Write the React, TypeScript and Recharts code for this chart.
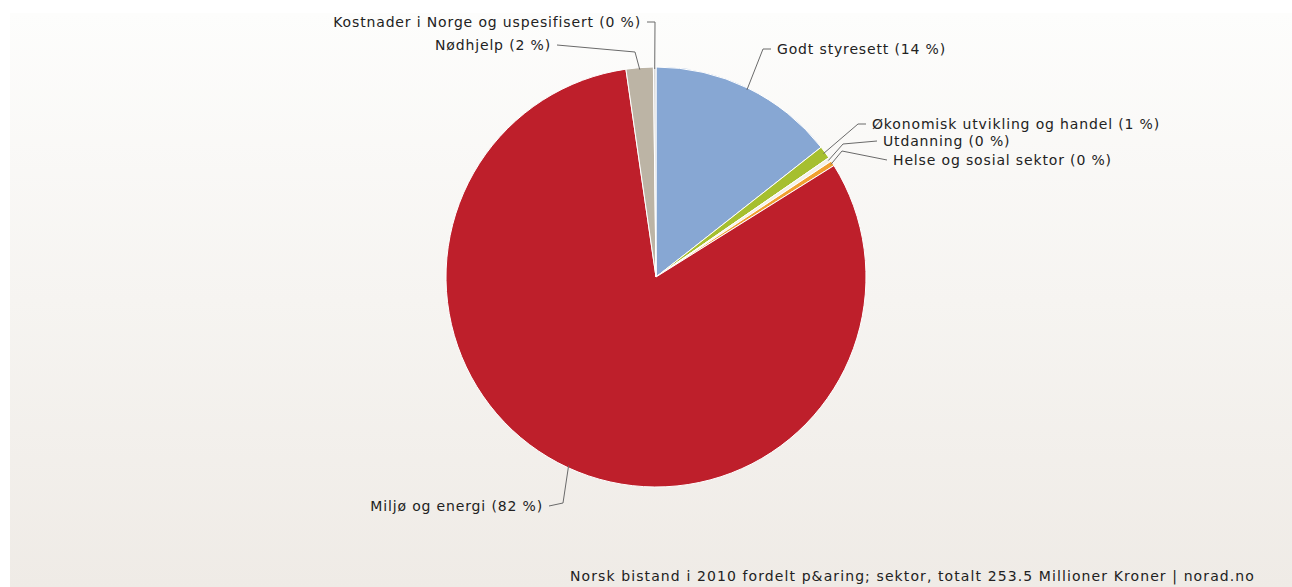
import React from 'react';
import { PieChart, Pie, Cell } from 'recharts';

// Norsk bistand 2010 fordelt på sektor, millioner kroner (total 253.5)
const SECTORS = [
  'Godt styresett',
  'Økonomisk utvikling og handel',
  'Utdanning',
  'Helse og sosial sektor',
  'Miljø og energi',
  'Nødhjelp',
  'Kostnader i Norge og uspesifisert',
];
const AMOUNTS = [36.5, 2.5, 0.8, 1.0, 206.9, 5.3, 0.5];
const PERCENT_LABELS = ['14 %', '1 %', '0 %', '0 %', '82 %', '2 %', '0 %'];

const COLORS = ['#87a7d3', '#a6bf2f', '#f4f1ea', '#f0a030', '#be1f2b', '#bcb4a5', '#d8d8d8'];

const CAPTION = 'Norsk bistand i 2010 fordelt p&aring; sektor, totalt 253.5 Millioner Kroner | norad.no';

const data = SECTORS.map((name, i) => ({ name, value: AMOUNTS[i], pct: PERCENT_LABELS[i] }));

// leader line geometry per slice, offsets from the pie centre
const LEADERS = [
  { elbow: [107, -228], end: [115, -228], anchor: 'start' },
  { elbow: [202, -153], end: [210, -153], anchor: 'start' },
  { elbow: [187, -133], end: [221, -136], anchor: 'start' },
  { elbow: [186, -126], end: [231, -117], anchor: 'start' },
  { elbow: [-93, 226], end: [-107, 229], anchor: 'end' },
  { elbow: [-21, -225], end: [-99, -232], anchor: 'end' },
  { elbow: [-1, -255], end: [-9, -255], anchor: 'end' },
];

const RADIAN = Math.PI / 180;
const FONT = '"DejaVu Sans", sans-serif';

const renderLabel = ({ cx, cy, midAngle, outerRadius, index, payload }: any) => {
  const l = LEADERS[index];
  const sx = cx + (outerRadius - 2) * Math.cos(-midAngle * RADIAN);
  const sy = cy + (outerRadius - 2) * Math.sin(-midAngle * RADIAN);
  const ex = cx + l.elbow[0];
  const ey = cy + l.elbow[1];
  const fx = cx + l.end[0];
  const fy = cy + l.end[1];
  const tx = l.anchor === 'start' ? fx + 6 : fx - 6;
  return (
    <g key={`lbl-${index}`}>
      <polyline points={`${sx},${sy} ${ex},${ey} ${fx},${fy}`} fill="none" stroke="#6a6a6a" strokeWidth={1} />
      <text
        x={tx}
        y={fy}
        textAnchor={l.anchor}
        dominantBaseline="central"
        fill="#222"
        fontFamily={FONT}
        fontSize={14}
        letterSpacing={0.85}
      >
        {`${payload.name} (${payload.pct})`}
      </text>
    </g>
  );
};

export default function App() {
  return (
    <div style={{ position: 'absolute', left: 0, top: 0, width: 1292, height: 587, background: '#fff' }}>
      <div
        style={{
          position: 'absolute',
          left: 10,
          top: 13,
          right: 0,
          bottom: 0,
          background: 'linear-gradient(#fdfdfc, #efebe6)',
        }}
      />
      <div style={{ position: 'absolute', left: 0, top: 0 }}>
        <PieChart width={1292} height={587} margin={{ top: 0, right: 0, bottom: 0, left: 0 }}>
          <Pie
            data={data}
            dataKey="value"
            cx={656}
            cy={277}
            outerRadius={210}
            startAngle={90}
            endAngle={-270}
            stroke="#ffffff"
            strokeWidth={1}
            labelLine={false}
            label={renderLabel}
            isAnimationActive={false}
          >
            {data.map((entry, index) => (
              <Cell key={`cell-${index}`} fill={COLORS[index % COLORS.length]} />
            ))}
          </Pie>
        </PieChart>
      </div>
      <div
        style={{
          position: 'absolute',
          right: 37,
          top: 568,
          fontFamily: FONT,
          fontSize: 14,
          letterSpacing: 1.1,
          color: '#222',
          whiteSpace: 'nowrap',
        }}
      >
        {CAPTION}
      </div>
    </div>
  );
}
